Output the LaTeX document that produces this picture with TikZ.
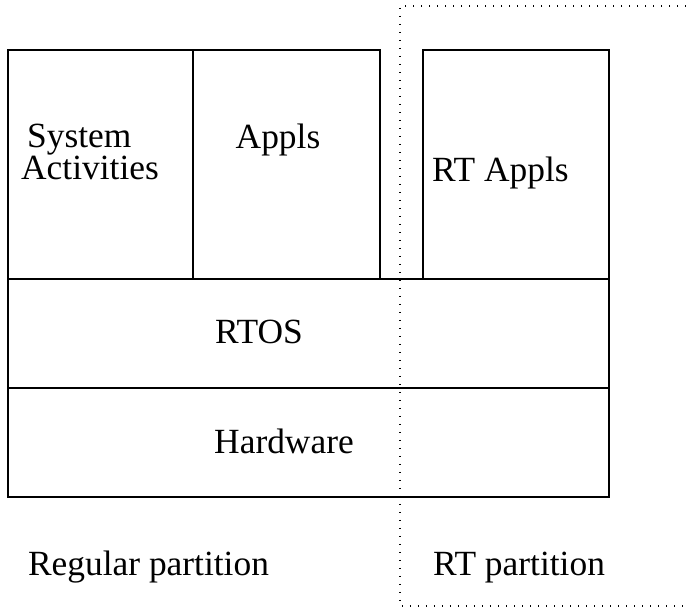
\documentclass[tikz,border=0pt]{standalone}
\usepackage{fontspec}
\setmainfont{Liberation Serif}
\usepackage{tikz}

\begin{document}
\begin{tikzpicture}[x=0.5pt, y=-0.5pt,
    layer/.style={draw, line width=0.6pt, rectangle, inner sep=0pt},
    txt/.style={font=\fontsize{17.7}{16}\selectfont, anchor=base, inner sep=0pt},
    part/.style={line width=0.6pt, dash pattern=on 0.6pt off 3.4pt}]
      \useasboundingbox (0,0) rectangle (686,609);

      % Application layer
      \node[layer, minimum width=92.5pt, minimum height=114.5pt] (sysact) at (100.5,164.5) {};
      \node[layer, minimum width=93.5pt, minimum height=114.5pt] (appls) at (286.5,164.5) {};
      \node[layer, minimum width=93pt, minimum height=114.5pt] (rtappls) at (516,164.5) {};

      % Kernel and hardware
      \node[layer, minimum width=300.5pt, minimum height=54.5pt] (rtos) at (308.5,333.5) {};
      \node[layer, minimum width=300.5pt, minimum height=54.5pt] (hw) at (308.5,442.5) {};

      % Labels
      \node[txt, align=left] (sysactlbl) at (90,180) {\hspace{3pt}System\\Activities};
      \node[txt] (applslbl) at (278,149) {Appls};
      \node[txt] (rtappllbl) at (500.5,182) {RT Appls};
      \node[txt] (rtoslbl) at (259,344) {RTOS};
      \node[txt] (hwlbl) at (284,453) {Hardware};
      \node[txt] (reglbl) at (148.5,575) {Regular partition};
      \node[txt] (rtlbl) at (519,575) {RT partition};

      % RT partition boundary
      \coordinate (pa) at (686,6);
      \coordinate (pb) at (400,6);
      \coordinate (pc) at (400,606);
      \coordinate (pd) at (686,606);
      \draw[part] (pa) -- (pb) -- (pc) -- (pd);
    \end{tikzpicture}
\end{document}
